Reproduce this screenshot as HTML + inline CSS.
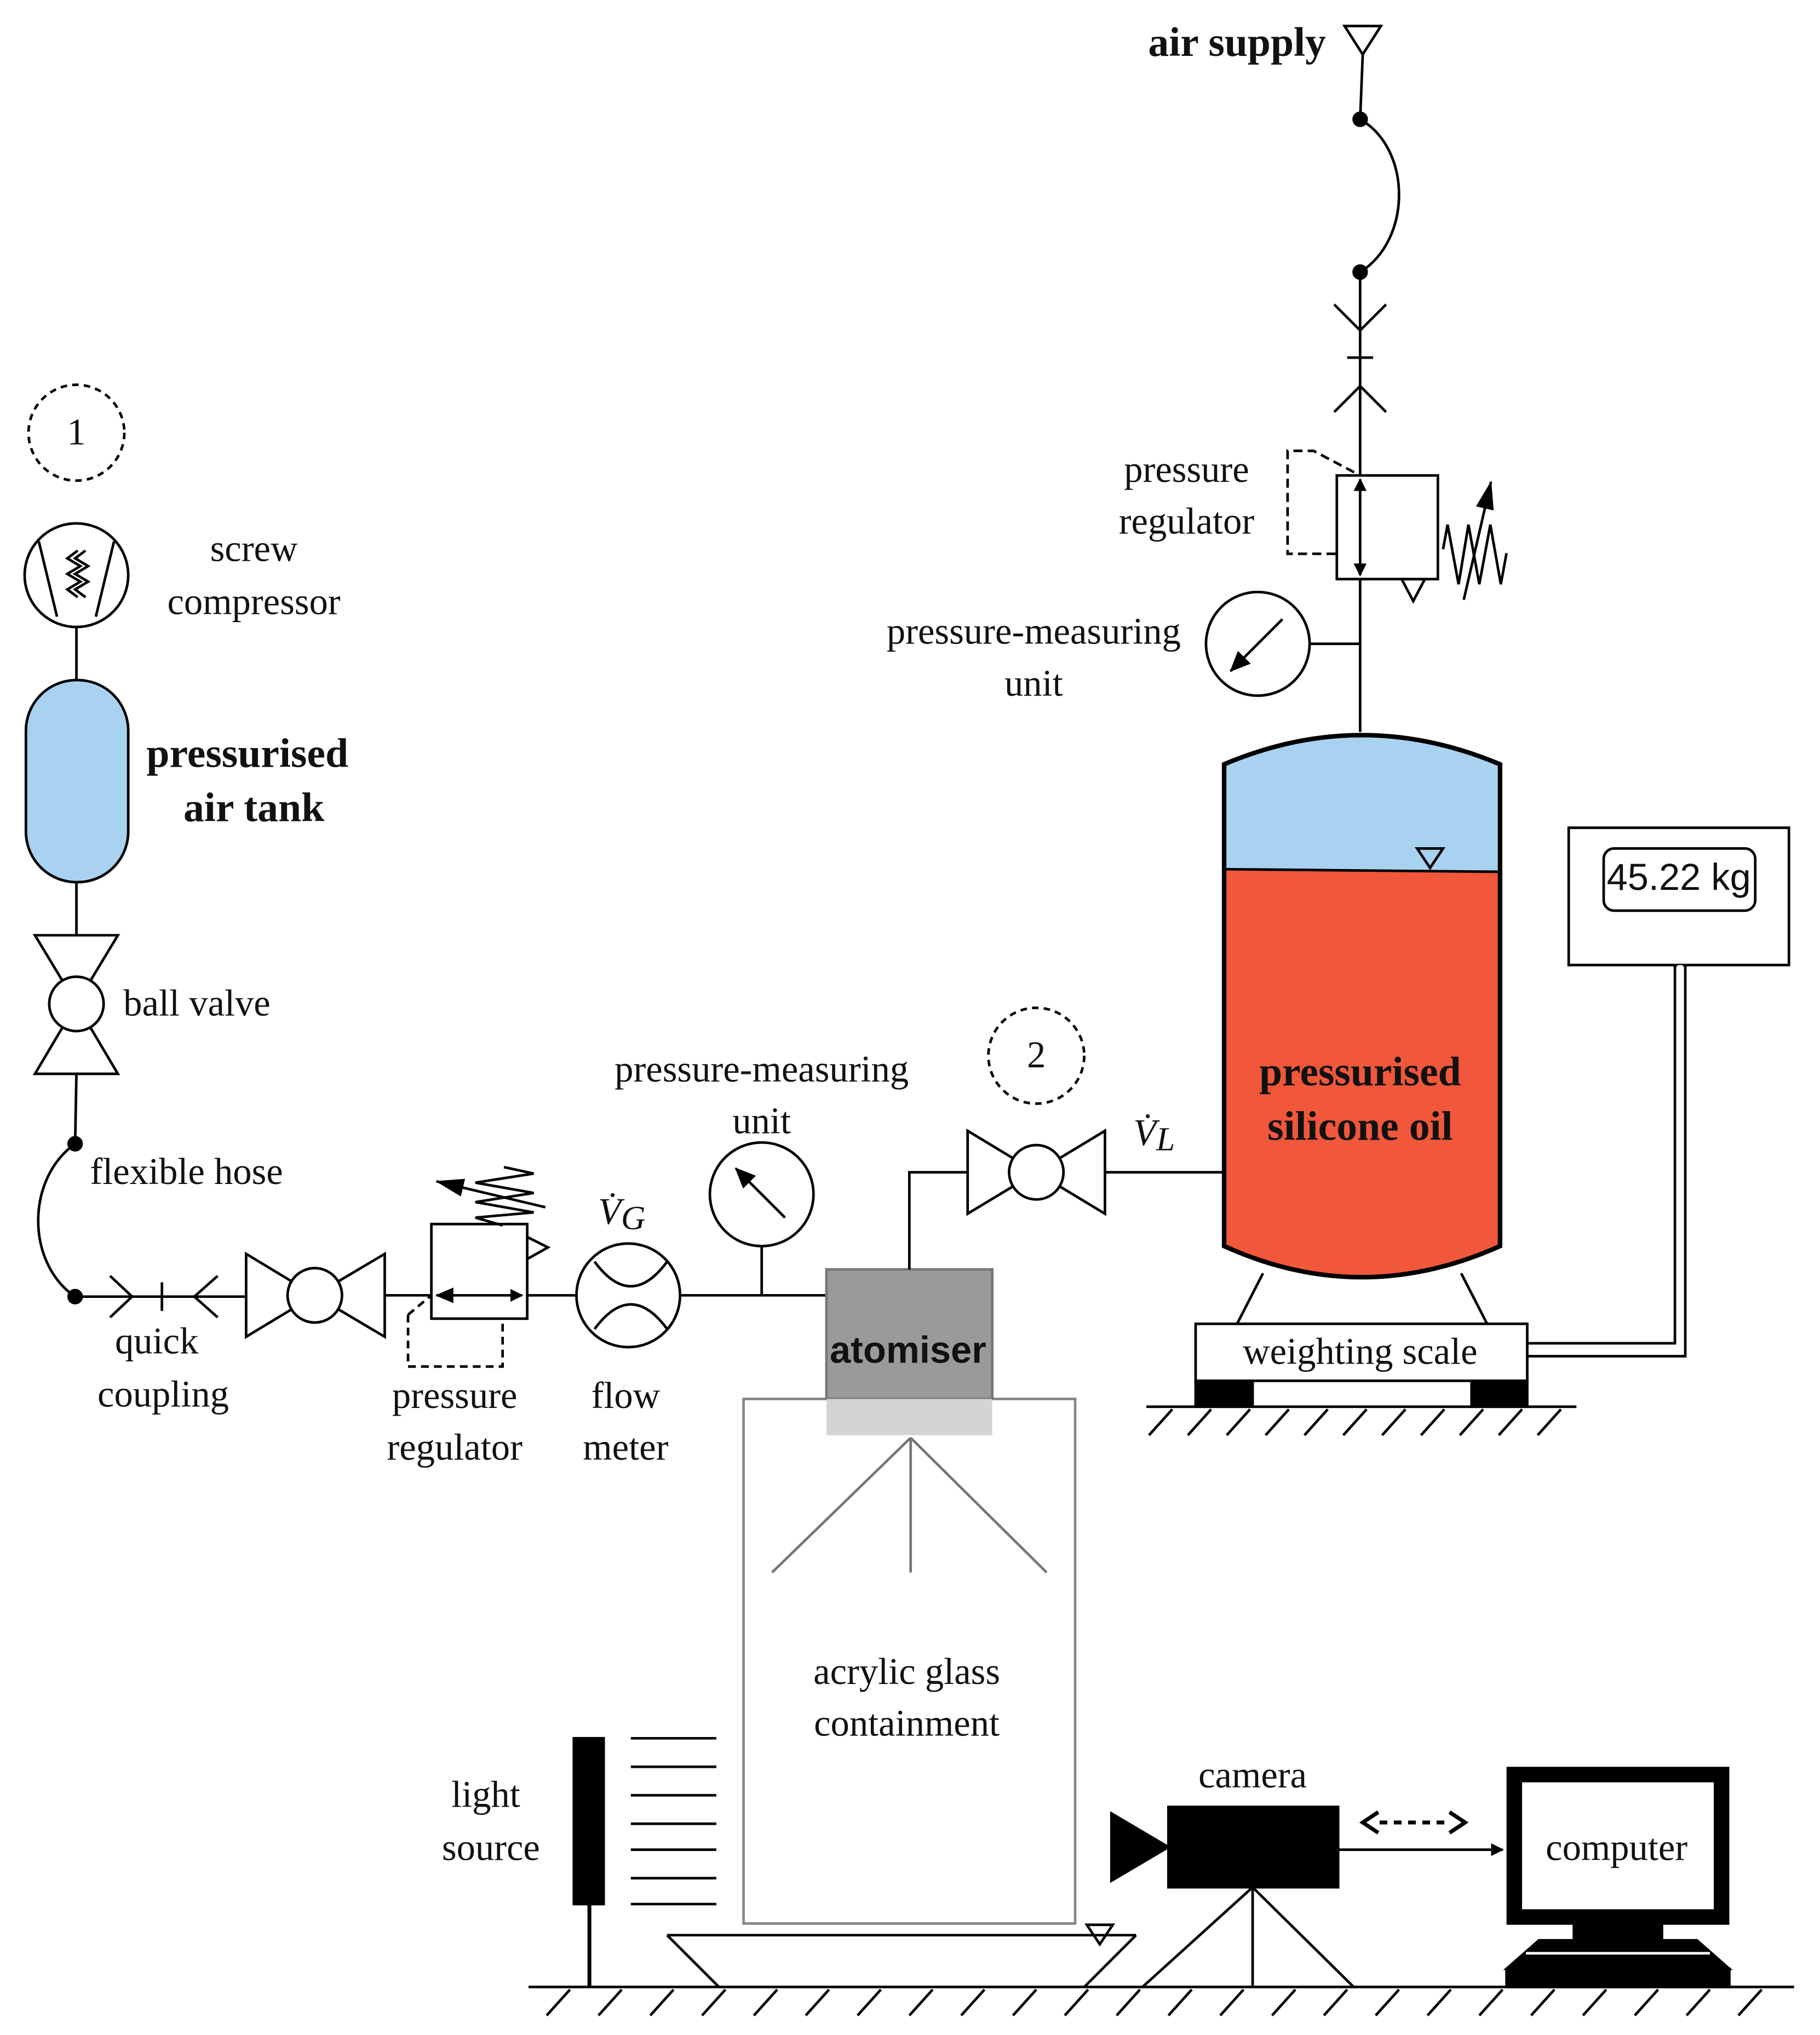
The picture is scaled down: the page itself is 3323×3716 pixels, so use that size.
<!DOCTYPE html>
<html><head><meta charset="utf-8"><style>
html,body{margin:0;padding:0;background:#fff;}
svg{display:block;}
text{font-family:"Liberation Serif",serif;font-size:29px;fill:#111;text-anchor:middle;}
.b{font-weight:bold;font-size:32px;}
.s{font-family:"Liberation Sans",sans-serif;}
</style></head><body>
<svg width="3323" height="3716" viewBox="0 0 1405 1571" xmlns="http://www.w3.org/2000/svg">
<defs>
<marker id="ah" markerWidth="10" markerHeight="10" refX="9" refY="5" orient="auto" markerUnits="userSpaceOnUse"><path d="M0,0 L10,5 L0,10 z" fill="#000"/></marker>
<marker id="ah2" markerWidth="16" markerHeight="14" refX="15" refY="7" orient="auto" markerUnits="userSpaceOnUse"><path d="M0,0 L16,7 L0,14 z" fill="#000"/></marker>
<marker id="ah3" markerWidth="22" markerHeight="14" refX="21" refY="7" orient="auto" markerUnits="userSpaceOnUse"><path d="M0,0 L22,7 L0,14 z" fill="#000"/></marker>
<marker id="ahb" markerWidth="14" markerHeight="12" refX="13" refY="6" orient="auto-start-reverse" markerUnits="userSpaceOnUse"><path d="M0,0 L14,6 L0,12 z" fill="#000"/></marker>
</defs>
<g stroke="#000" stroke-width="2" fill="none">
<circle cx="59" cy="334" r="37" stroke-dasharray="5,4"/>
<circle cx="59" cy="444" r="40"/>
<line x1="30" y1="418" x2="44" y2="476"/><line x1="88" y1="418" x2="74" y2="476"/>
<path d="M60,425 l-8,6 l10,6 l-10,6 l10,6 l-10,6 l8,6"/><path d="M66,425 l-8,6 l10,6 l-10,6 l10,6 l-10,6 l8,6"/>
<line x1="59" y1="484" x2="59" y2="525"/>
<rect x="20" y="525" width="79" height="156" rx="39" fill="#a8d2f0"/>
<line x1="59" y1="681" x2="59" y2="722"/>
<path d="M27,722 L91,722 L59,775 Z M27,829 L91,829 L59,775 Z" fill="#fff"/>
<circle cx="59" cy="775" r="21" fill="#fff"/>
<line x1="59" y1="829" x2="58" y2="883"/>
<path d="M58,883 C20,910 20,975 58,1001"/>
<circle cx="58" cy="883" r="5" fill="#000"/>
<circle cx="58" cy="1001" r="5" fill="#000"/>
<line x1="58" y1="1001" x2="190" y2="1001"/>
<path d="M85,985 L102,1001 L85,1017 M125,990 L125,1012 M168,985 L150,1001 L168,1017"/>
<path d="M190,968 L243,1000 L190,1032 Z M297,968 L243,1000 L297,1032 Z" fill="#fff"/>
<circle cx="243" cy="1000" r="21" fill="#fff"/>
<line x1="297" y1="1000" x2="333" y2="1000"/>
<rect x="333" y="945" width="74" height="73"/>
<line x1="337" y1="1000" x2="403" y2="1000" marker-end="url(#ah)" marker-start="url(#ahb)"/>
<path d="M315,1015 L315,1055 L388,1055 L388,1018 M315,1015 L333,1000" stroke-dasharray="6,4"/>
<path d="M407,955 L423,963 L407,972"/>
<path d="M388,946 L367,940 L412,936 L367,928 L412,921 L367,913 L412,906 L389,901"/>
<line x1="421" y1="932" x2="337" y2="912" marker-end="url(#ah3)"/>
<line x1="407" y1="1000" x2="445" y2="1000"/>
<circle cx="485" cy="1000" r="40"/>
<path d="M459,974 Q487,1012 515,974 M459,1026 Q487,988 515,1026"/>
<line x1="525" y1="1000" x2="638" y2="1000"/>
<circle cx="588" cy="922" r="40"/>
<line x1="606" y1="940" x2="568" y2="902" marker-end="url(#ah2)"/>
<line x1="588" y1="962" x2="588" y2="1000"/>
<rect x="574" y="1080" width="256" height="405" stroke="#888"/>
<rect x="638" y="980" width="128" height="100" fill="#9a9a9a" stroke="#777"/>
<rect x="638" y="1080" width="128" height="28" fill="#d4d4d4" stroke="none"/>
<path d="M703,1110 L596,1214 M703,1110 L703,1214 M703,1110 L808,1214" stroke="#777"/>
<path d="M702,980 L702,905 L747,905"/>
<path d="M747,873 L800,905 L747,937 Z M853,873 L800,905 L853,937 Z" fill="#fff"/>
<circle cx="800" cy="905" r="21" fill="#fff"/>
<line x1="853" y1="905" x2="945" y2="905"/>
<circle cx="800" cy="815" r="37" stroke-dasharray="5,4"/>
<path d="M945,671 L945,590 Q1051,545 1158,590 L1158,673 Z" fill="#a8d2f0" stroke="none"/>
<path d="M945,671 L1158,673 L1158,962 Q1051,1010 945,962 Z" fill="#f0573b" stroke="none"/>
<path d="M945,590 Q1051,545 1158,590 L1158,962 Q1051,1010 945,962 Z" stroke-width="3.5"/>
<line x1="945" y1="671" x2="1158" y2="673"/>
<path d="M1094,655 L1114,655 L1104,670 Z"/>
<path d="M975,983 L955,1022 M1128,983 L1148,1022"/>
<rect x="923" y="1022" width="256" height="44"/>
<rect x="923" y="1066" width="44" height="20" fill="#000"/>
<rect x="1136" y="1066" width="43" height="20" fill="#000"/>
<line x1="885" y1="1086" x2="1217" y2="1086"/>
<path d="M905,1088 l-18,20 M935,1088 l-18,20 M965,1088 l-18,20 M995,1088 l-18,20 M1025,1088 l-18,20 M1055,1088 l-18,20 M1085,1088 l-18,20 M1115,1088 l-18,20 M1145,1088 l-18,20 M1175,1088 l-18,20 M1205,1088 l-18,20"/>
<rect x="1211" y="639" width="170" height="106"/>
<rect x="1238" y="655" width="117" height="48" rx="8"/>
<path d="M1293,745 L1293,1037 L1179,1037 M1301,745 L1301,1047 L1179,1047" />
<line x1="1297" y1="745" x2="1297" y2="1042" stroke="#fff" stroke-width="4"/>
<path d="M1038,20 L1066,20 L1052,42 Z"/>
<line x1="1052" y1="42" x2="1050" y2="92"/>
<path d="M1050,92 C1090,115 1090,185 1050,210"/>
<circle cx="1050" cy="92" r="5" fill="#000"/>
<circle cx="1050" cy="210" r="5" fill="#000"/>
<line x1="1050" y1="210" x2="1050" y2="367"/>
<path d="M1030,235 L1050,255 L1070,235 M1040,276 L1060,276 M1030,318 L1050,298 L1070,318"/>
<rect x="1032" y="367" width="78" height="80"/>
<line x1="1050" y1="405" x2="1050" y2="370" marker-end="url(#ah)"/>
<line x1="1050" y1="405" x2="1050" y2="444" marker-end="url(#ah)"/>
<path d="M1031,427.5 L994,427.5 L994,348 L1014,348 L1050,367" stroke-dasharray="7,4"/>
<path d="M1082,447 L1100,447 L1091,464 Z"/>
<path d="M1114,424 L1117.5,405 L1126,451 L1133.6,405 L1142,451 L1150.5,405 L1158.6,451 L1163,427"/>
<line x1="1130" y1="463" x2="1151" y2="372" marker-end="url(#ah3)"/>
<line x1="1050" y1="447" x2="1050" y2="565"/>
<circle cx="971" cy="497" r="40"/>
<line x1="990" y1="478" x2="950" y2="518" marker-end="url(#ah2)"/>
<line x1="1011" y1="497" x2="1050" y2="497"/>
<line x1="408" y1="1534" x2="1385" y2="1534"/>
<path d="M440,1536 l-18,20 M480,1536 l-18,20 M520,1536 l-18,20 M560,1536 l-18,20 M600,1536 l-18,20 M640,1536 l-18,20 M680,1536 l-18,20 M720,1536 l-18,20 M760,1536 l-18,20 M800,1536 l-18,20 M840,1536 l-18,20 M880,1536 l-18,20 M920,1536 l-18,20 M960,1536 l-18,20 M1000,1536 l-18,20 M1040,1536 l-18,20 M1080,1536 l-18,20 M1120,1536 l-18,20 M1160,1536 l-18,20 M1200,1536 l-18,20 M1240,1536 l-18,20 M1280,1536 l-18,20 M1320,1536 l-18,20 M1360,1536 l-18,20"/>
<rect x="443" y="1342" width="23" height="128" fill="#000"/>
<line x1="455" y1="1470" x2="455" y2="1534" stroke-width="3"/>
<path d="M487,1342 H553 M487,1364 H553 M487,1386 H553 M487,1408 H553 M487,1428 H553 M487,1450 H553 M487,1470 H553"/>
<path d="M515,1494 L877,1494 M515,1494 L555,1534 M877,1494 L837,1534"/>
<path d="M839,1486 L859,1486 L849,1501 Z"/>
<path d="M858,1400 L902,1426 L858,1452 Z" fill="#000"/>
<rect x="902" y="1395" width="131" height="62" fill="#000"/>
<path d="M967,1457 L882,1534 M967,1457 L1045,1534 M967,1457 L967,1534"/>
<line x1="1065" y1="1407" x2="1118" y2="1407" stroke-width="3" stroke-dasharray="6,5"/>
<path d="M1064,1399 L1052,1407 L1064,1415 M1119,1399 L1131,1407 L1119,1415" stroke-width="3"/>
<line x1="1033" y1="1428" x2="1160" y2="1428" marker-end="url(#ah)"/>
<rect x="1169" y="1370" width="160" height="110" stroke-width="12"/>
<rect x="1215" y="1486" width="68" height="12" fill="#000"/>
<path d="M1188,1498 L1310,1498 L1335,1520 L1163,1520 Z" fill="#000"/>
<rect x="1163" y="1520" width="172" height="14" fill="#000"/>
<path d="M1178,1508 L1320,1508" stroke="#fff" stroke-width="2"/>
</g>
<text x="59" y="343" font-size="22">1</text>
<text x="800" y="824" font-size="22">2</text>
<text x="196" y="433">screw</text>
<text x="196" y="474">compressor</text>
<text class="b" x="191" y="592">pressurised</text>
<text class="b" x="196" y="634">air tank</text>
<text x="152" y="784">ball valve</text>
<text x="144" y="914">flexible hose</text>
<text x="121" y="1045">quick</text>
<text x="126" y="1086">coupling</text>
<text x="351" y="1087">pressure</text>
<text x="351" y="1127">regulator</text>
<text x="480" y="945" font-style="italic" font-size="38">V̇<tspan font-size="26" dy="4">G</tspan></text>
<text x="483" y="1087">flow</text>
<text x="483" y="1127">meter</text>
<text x="588" y="835">pressure-measuring</text>
<text x="588" y="875">unit</text>
<text class="s" x="701" y="1052" font-size="25" font-weight="bold">atomiser</text>
<text x="700" y="1300">acrylic glass</text>
<text x="700" y="1340">containment</text>
<text x="891" y="884" font-style="italic" font-size="38">V̇<tspan font-size="26" dy="4">L</tspan></text>
<text class="b" x="1050" y="838">pressurised</text>
<text class="b" x="1050" y="880">silicone oil</text>
<text x="1050" y="1053">weighting scale</text>
<text class="s" x="1296" y="687" font-size="21">45.22 kg</text>
<text class="b" x="955" y="43">air supply</text>
<text x="916" y="372">pressure</text>
<text x="916" y="412">regulator</text>
<text x="798" y="497">pressure-measuring</text>
<text x="798" y="537">unit</text>
<text x="375" y="1395">light</text>
<text x="379" y="1436">source</text>
<text x="967" y="1380">camera</text>
<text x="1248" y="1436">computer</text>
</svg>
</body></html>
